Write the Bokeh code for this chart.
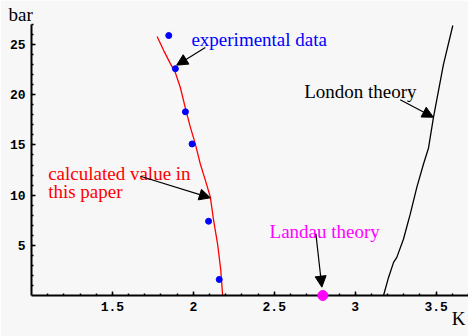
from bokeh.plotting import figure
from bokeh.models import Range1d, FixedTicker, Label, Arrow, NormalHead, Title
from bokeh.embed import file_html
from bokeh.resources import INLINE

# Lambda-line of liquid helium: temperature (K) vs pressure (bar)
exp_T = [1.848, 1.889, 1.951, 1.992, 2.094, 2.160]
exp_P = [25.9, 22.6, 18.3, 15.1, 7.4, 1.6]

calc_T = [2.181, 2.169, 2.150, 2.125, 2.105, 2.074, 2.043, 2.012, 1.981,
          1.955, 1.920, 1.889, 1.858, 1.817, 1.776]
calc_P = [0.0, 2.6, 5.1, 7.5, 9.8, 11.5, 13.1, 15.1, 16.8,
          18.4, 20.7, 22.2, 23.1, 24.4, 25.8]

london_T = [3.175, 3.206, 3.237, 3.257, 3.298, 3.340, 3.381, 3.422,
            3.453, 3.483, 3.545, 3.603]
london_P = [0.0, 1.8, 3.3, 3.8, 5.6, 8.1, 10.8, 13.1, 14.7, 17.7, 23.0, 26.9]

landau_T = [2.8]
landau_P = [0.0]

x_ticks = [1.5, 2.0, 2.5, 3.0, 3.5]
x_minor = [round(1.0 + 0.1 * i, 1) for i in range(1, 28)]
y_ticks = [5, 10, 15, 20, 25]
y_minor = list(range(1, 28))

BG = "#f7f7f7"
SERIF = "Liberation Serif"
MONO = "Liberation Mono"

p = figure(width=468, height=336, output_backend="svg", toolbar_location=None,
           x_range=Range1d(1.0, 3.70), y_range=Range1d(0, 27),
           min_border_left=31, min_border_right=0, min_border_top=24,
           min_border_bottom=41)
p.background_fill_color = BG
p.border_fill_color = BG
p.outline_line_color = None
p.grid.visible = False

for ax in (p.xaxis[0], p.yaxis[0]):
    ax.axis_line_width = 2
    ax.axis_line_color = "black"
    ax.major_tick_in = 4
    ax.major_tick_out = 0
    ax.minor_tick_in = 2
    ax.minor_tick_out = 0
    ax.major_tick_line_width = 1.5
    ax.minor_tick_line_width = 1.5
    ax.major_label_text_font = MONO
    ax.major_label_text_font_style = "bold"
    ax.major_label_text_font_size = "13px"
    ax.major_label_text_color = "black"

p.xaxis[0].ticker = FixedTicker(ticks=x_ticks, minor_ticks=x_minor)
p.yaxis[0].ticker = FixedTicker(ticks=y_ticks, minor_ticks=y_minor)
p.xaxis[0].major_label_standoff = 6
p.yaxis[0].major_label_standoff = 6
p.xaxis[0].major_label_overrides = {1.5: "1.5", 2.0: "2", 2.5: "2.5", 3.0: "3", 3.5: "3.5"}

# curves and points
p.line(calc_T, calc_P, line_color="#ff0000", line_width=1.3)
p.line(london_T, london_P, line_color="black", line_width=1.3)
p.scatter(exp_T, exp_P, size=6, color="#0000ff")
p.scatter(landau_T, landau_P, size=10, color="#ff00ff", level="overlay")

# axis units
p.add_layout(Title(text="bar", align="left", offset=-23, text_font=SERIF,
                   text_font_size="19px", text_font_style="normal",
                   text_color="black", standoff=0, text_line_height=1.0),
             "above")
p.add_layout(Title(text="K", align="right", offset=3, text_font=SERIF,
                   text_font_size="19px", text_font_style="normal",
                   text_color="black", standoff=-31, text_line_height=1.0),
             "below")

# annotations
def note(x, y, text, color):
    p.add_layout(Label(x=x, y=y, text=text, text_font=SERIF,
                       text_font_size="19px", text_baseline="alphabetic",
                       text_color=color))

def arrow(xs, ys, xe, ye):
    p.add_layout(Arrow(x_start=xs, y_start=ys, x_end=xe, y_end=ye,
                       line_color="black", line_width=1.2,
                       end=NormalHead(size=11, fill_color="black",
                                      line_color="black")))

note(1.988, 25.55, "experimental data", "#0000ff")
arrow(2.074, 24.7, 1.897, 22.95)

note(2.685, 20.37, "London theory", "black")
arrow(3.278, 19.5, 3.483, 17.76)

note(1.103, 12.18, "calculated value in", "#ff0000")
note(1.103, 10.33, "this paper", "#ff0000")
arrow(1.673, 11.88, 2.105, 9.73)

note(2.471, 6.37, "Landau theory", "#ff00ff")
arrow(2.757, 6.15, 2.794, 0.83)

open("out.html", "w").write(file_html(p, INLINE))
